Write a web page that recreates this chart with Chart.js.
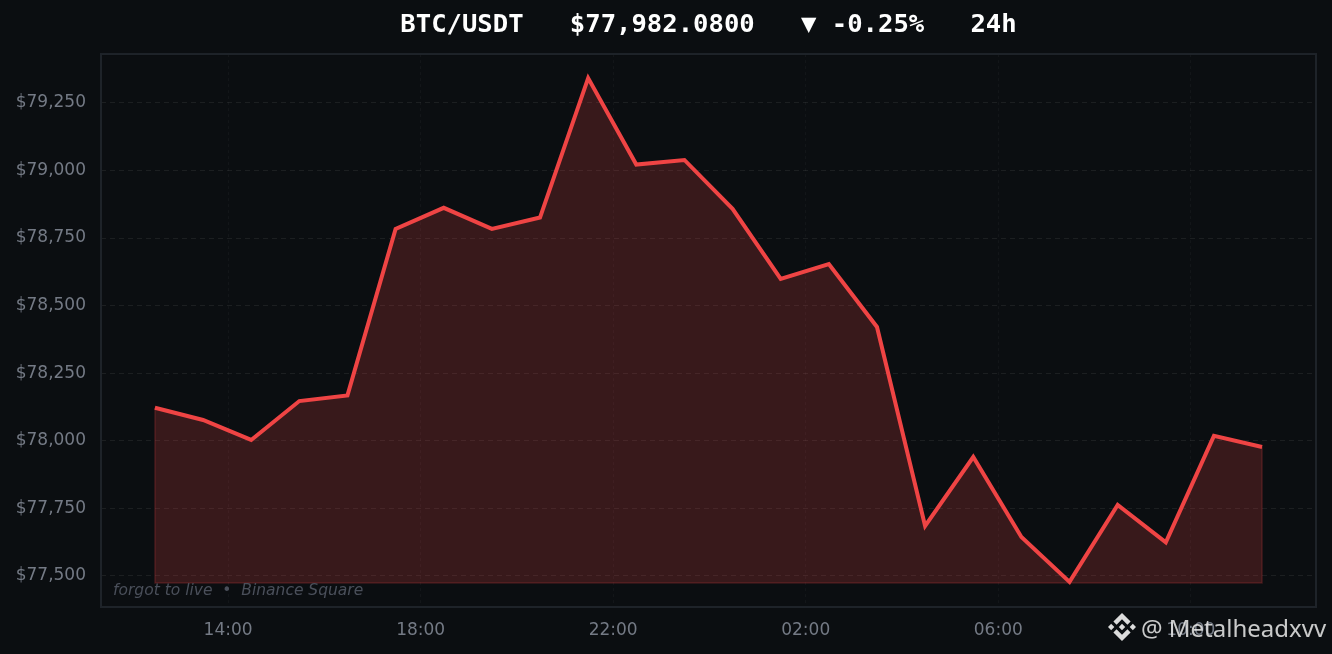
<!DOCTYPE html>
<html>
<head>
<meta charset="utf-8">
<script src="https://cdn.jsdelivr.net/npm/chart.js@4"></script>
<style>
html,body{margin:0;padding:0;background:#0b0e11;width:1332px;height:654px;overflow:hidden}
#wrap{position:relative;width:1332px;height:654px}
canvas{position:absolute;left:0;top:0}
#caption{position:absolute;left:113px;top:581px;font:italic 15.5px "DejaVu Sans";color:#4a4f5a;white-space:nowrap;letter-spacing:0}
#wm{position:absolute;left:1141px;top:611px;font:24px "Noto Sans";color:rgba(235,235,235,.85);white-space:nowrap}
#logo{position:absolute;left:1108px;top:613px;width:28px;height:28px}
</style>
</head>
<body>
<div id="wrap">
<canvas id="c" width="1332" height="654"></canvas>
<div id="caption">forgot to live &nbsp;•&nbsp; Binance Square</div>
<svg id="logo" viewBox="0 0 126.61 126.61" fill="#dcdcdc">
<path d="M38.73 53.2l24.59-24.58 24.6 24.6 14.3-14.31L63.32 0 24.43 38.9z"/>
<path d="M0 63.31l14.3-14.31 14.31 14.31-14.31 14.3z"/>
<path d="M38.73 73.41L63.32 98l24.6-24.6 14.31 14.29-38.9 38.91-38.91-38.88-.02-.02z"/>
<path d="M98 63.31l14.3-14.3 14.31 14.3-14.31 14.3z"/>
<path d="M77.83 63.3L63.32 48.78 52.59 59.51l-1.24 1.23-2.54 2.54 14.51 14.5 14.51-14.47z"/>
</svg>
<div id="wm">@ Metalheadxvv</div>
</div>
<script>
const titleText = "BTC/USDT   $77,982.0800   ▼ -0.25%   24h";
const hours = [12.48,13.48,14.48,15.48,16.48,17.48,18.48,19.48,20.48,21.48,22.48,23.48,24.48,25.48,26.48,27.48,28.48,29.48,30.48,31.48,32.48,33.48,34.48,35.48];
const prices = [78122,78077,78003,78147,78168,78784,78862,78784,78826,79342,79022,79039,78858,78599,78654,78421,77685,77940,77644,77478,77763,77624,78018,77977];
const floorPrice = 77474;
const xTickValues = [14,18,22,26,30,34];
const xTickLabels = ["14:00","18:00","22:00","02:00","06:00","10:00"];
const yTickValues = [77500,77750,78000,78250,78500,78750,79000,79250];

const linePoints = hours.map((h,i)=>({x:h,y:prices[i]}));
const edgePoints = [
  {x:hours[0],y:prices[0]},{x:hours[0],y:floorPrice},
  {x:hours[hours.length-1],y:floorPrice},{x:hours[hours.length-1],y:prices[prices.length-1]}
];

const frame = {
  id:'frame',
  afterDraw(chart){
    const a=chart.chartArea, c=chart.ctx;
    c.save();c.strokeStyle='#1e2329';c.lineWidth=2;
    c.strokeRect(a.left,a.top,a.right-a.left,a.bottom-a.top);
    c.restore();
  }
};

new Chart(document.getElementById('c'),{
  type:'line',
  plugins:[frame],
  data:{datasets:[
    {data:linePoints,borderColor:'#ef4444',borderWidth:4,pointRadius:0,tension:0,
     borderJoinStyle:'miter',fill:{value:floorPrice},backgroundColor:'rgba(239,68,68,0.2)',order:1},
    {data:edgePoints,borderColor:'rgba(239,68,68,0.2)',borderWidth:1.5,pointRadius:0,tension:0,fill:false,order:2}
  ]},
  options:{
    responsive:false,animation:false,
    layout:{padding:{right:16,left:0,top:0,bottom:0}},
    plugins:{
      legend:{display:false},tooltip:{enabled:false},
      title:{display:true,text:titleText,fullSize:false,color:'#ffffff',align:'center',
        font:{family:'"DejaVu Sans Mono"',size:25.6,weight:'bold',lineHeight:1.2},
        padding:{top:10,bottom:13.3}}
    },
    scales:{
      x:{type:'linear',min:11.36,max:36.6,
        afterBuildTicks(s){s.ticks=xTickValues.map(v=>({value:v}));},
        afterFit(s){s.height=47;},
        grid:{color:'rgba(255,255,255,0.035)',lineWidth:1,drawTicks:false,tickBorderDash:[0,0]},
        border:{display:false,dash:[3,3]},
        ticks:{color:'#747a85',font:{family:'"DejaVu Sans"',size:17},padding:13,maxRotation:0,autoSkip:false,
          callback(v){return xTickLabels[xTickValues.indexOf(v)];}}
      },
      y:{type:'linear',min:77385,max:79431,
        afterBuildTicks(s){s.ticks=yTickValues.map(v=>({value:v}));},
        afterFit(s){s.width=101;},
        grid:{color:'rgba(255,255,255,0.07)',lineWidth:1,drawTicks:false},
        border:{display:false,dash:[5,4]},
        ticks:{color:'#747a85',font:{family:'"DejaVu Sans"',size:17},padding:15,autoSkip:false,
          callback(v){return '$'+v.toLocaleString('en-US');}}
      }
    }
  }
});
</script>
</body>
</html>
